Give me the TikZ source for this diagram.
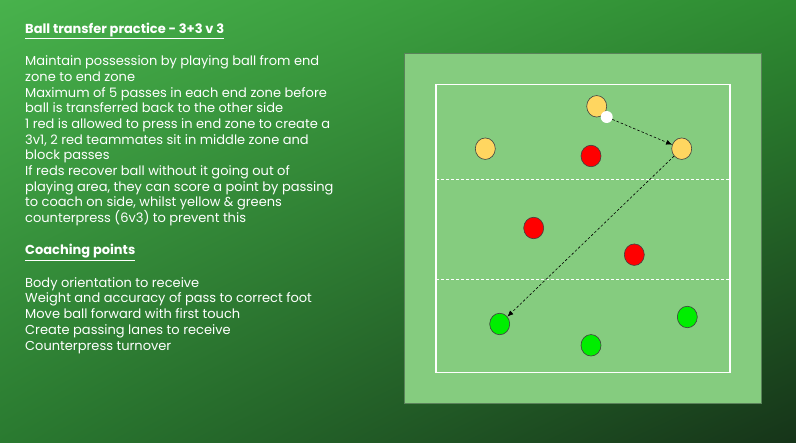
\documentclass[tikz,border=0pt]{standalone}
\usepackage{fontspec}
\setmainfont{Poppins}
\usetikzlibrary{shapes.geometric,arrows.meta,shadings}

\definecolor{bgTL}{RGB}{72,178,76}
\definecolor{bgTR}{RGB}{46,140,50}
\definecolor{bgBL}{RGB}{42,122,48}
\definecolor{bgBR}{RGB}{22,52,25}
\definecolor{pitch}{RGB}{133,204,127}
\definecolor{pitchedge}{RGB}{90,130,90}
\definecolor{yellowteam}{RGB}{255,214,96}
\definecolor{redteam}{RGB}{255,0,0}
\definecolor{greenteam}{RGB}{0,238,0}

\tikzset{
    txt/.style={anchor=base west, text=white, font=\fontsize{13}{15.7}\selectfont, inner sep=0pt},
    player/.style={ellipse, draw=black!75, line width=0.6pt, minimum width=20pt, minimum height=21.5pt, inner sep=0pt},
    pass/.style={dashed, dash pattern=on 2.5pt off 2pt, line width=0.6pt, -{Latex[length=6pt,width=5pt]}},
}

\begin{document}
\begin{tikzpicture}[x=1pt,y=-1pt]

    % Background
    \useasboundingbox (0,0) rectangle (796,443);
    \shade[upper left=bgTL, upper right=bgTR, lower left=bgBL, lower right=bgBR]
        (0,0) rectangle (796,443);

    % Session text
    \node[txt] (title) at (25,33.3) {\bfseries\underline{Ball transfer practice - 3+3 v 3}};
    \foreach \line [count=\i] in {
        Maintain possession by playing ball from end,
        zone to end zone,
        Maximum of 5 passes in each end zone before,
        ball is transferred back to the other side,
        1 red is allowed to press in end zone to create a,
        {3v1, 2 red teammates sit in middle zone and},
        block passes,
        If reds recover ball without it going out of,
        {playing area, they can score a point by passing},
        {to coach on side, whilst yellow \& greens},
        counterpress (6v3) to prevent this}
        \node[txt] (rule\i) at (25,{65.7+15.7*(\i-1)}) {\line};

    \node[txt] (coaching) at (25,255) {\bfseries\underline{Coaching points}};
    \foreach \line [count=\i] in {
        Body orientation to receive,
        Weight and accuracy of pass to correct foot,
        Move ball forward with first touch,
        Create passing lanes to receive,
        Counterpress turnover}
        \node[txt] (point\i) at (25,{287.3+15.7*(\i-1)}) {\line};

    % Pitch
    \draw[fill=pitch, draw=pitchedge, line width=0.8pt] (404,53) rectangle (761,403);
    \draw[white, line width=1.2pt] (436,84.3) rectangle (730,372.3);
    \draw[white, line width=0.7pt, dashed, dash pattern=on 3pt off 2pt] (436,179.3) -- (730,179.3);
    \draw[white, line width=0.7pt, dashed, dash pattern=on 3pt off 2pt] (436,279) -- (730,279);

    % Players
    \node[player, fill=yellowteam] (y1) at (596.7,106.3) {};
    \node[player, fill=yellowteam] (y2) at (681.7,148.7) {};
    \node[player, fill=yellowteam] (y3) at (485.3,148.7) {};
    \node[player, fill=redteam] (r1) at (591,156) {};
    \node[player, fill=redteam] (r2) at (533.7,228) {};
    \node[player, fill=redteam] (r3) at (634.3,254.7) {};
    \node[player, fill=greenteam] (g1) at (499.7,324) {};
    \node[player, fill=greenteam] (g2) at (591,345.3) {};
    \node[player, fill=greenteam] (g3) at (687.3,317) {};

    % Ball
    \node[circle, fill=white, minimum size=12pt, inner sep=0pt] (ball) at (606.7,117) {};

    % Passes
    \draw[pass] (ball) -- (y2);
    \draw[pass] (y2) -- (g1);

\end{tikzpicture}
\end{document}
